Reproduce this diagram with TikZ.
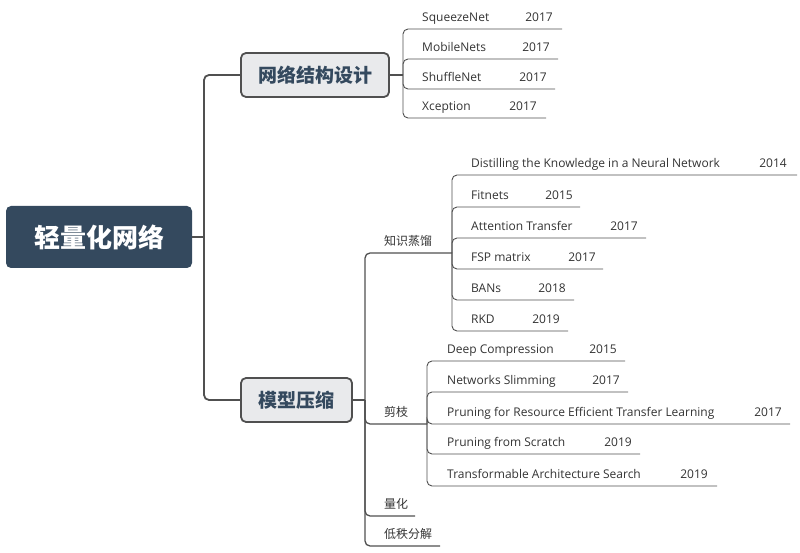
\documentclass[tikz,border=0pt]{standalone}
\usepackage{fontspec}
\setmainfont{Open Sans}
\newfontfamily\cjk{Noto Sans CJK SC}
\definecolor{rootblue}{HTML}{34495E}
\definecolor{boxgray}{HTML}{E9EAEC}
\definecolor{edgegray}{HTML}{505050}
\definecolor{inkgray}{HTML}{333333}
\tikzset{
  rootbox/.style={fill=rootblue, rounded corners=5, minimum width=186, minimum height=62,
    text=white, font=\cjk\bfseries\fontsize{26}{30}\selectfont},
  topicbox/.style={fill=boxgray, draw=edgegray, line width=1.8, rounded corners=5,
    minimum height=44, text=rootblue, font=\cjk\bfseries\fontsize{19}{22}\selectfont},
  subtopic/.style={anchor=base west, inner sep=0, text=inkgray, font=\cjk\fontsize{12}{14}\selectfont},
  leaf/.style={anchor=base west, inner sep=0, text=inkgray, font=\fontsize{12}{14}\selectfont},
  year/.style={leaf, anchor=base east},
  mainline/.style={draw=edgegray, line width=1.8, rounded corners=5},
  midline/.style={draw=edgegray, line width=1.3, rounded corners=5},
  leafline/.style={draw=edgegray, line width=0.9, rounded corners=5}
}
\begin{document}
\begin{tikzpicture}[x=1pt,y=-1pt]
\useasboundingbox (0,0) rectangle (800,553);
% main topics
\node[rootbox] (root) at (99,237) {轻量化网络};
\node[topicbox, minimum width=148] (design) at (315,75) {网络结构设计};
\node[topicbox, minimum width=111] (compress) at (296.5,400) {模型压缩};
\coordinate (rootk) at (204,237);
\draw[mainline] (root.east) -- (rootk);
\draw[mainline] (rootk) |- (design.west);
\draw[mainline] (rootk) |- (compress.west);
% network design
\coordinate (designk) at (403,75);
\draw[midline] (design.east) -- (designk);
\foreach \nm/\yr/\ly/\yx/\ex [count=\i] in {SqueezeNet/2017/29/553/562, MobileNets/2017/59/550/558,
    ShuffleNet/2017/89/547/555, Xception/2017/118/537/546}{
  \node[leaf] (net\i) at (422,\ly-7.5) {\nm};
  \node[year] (nety\i) at (\yx,\ly-7.5) {\yr};
  \coordinate (nete\i) at (\ex,\ly);
  \draw[leafline] (designk) |- (nete\i);
}
% model compression
\coordinate (compk) at (365,400);
\draw[midline] (compress.east) -- (compk);
\node[subtopic] (kd) at (384,245.5) {知识蒸馏};
\coordinate (kdk) at (452,253);
\draw[midline] (compk) |- (kdk);
\node[subtopic] (prune) at (384,416.5) {剪枝};
\coordinate (prunek) at (427,424);
\draw[midline] (compk) |- (prunek);
\node[subtopic] (quant) at (384,508.5) {量化};
\coordinate (quante) at (415,516);
\draw[midline] (compk) |- (quante);
\node[subtopic] (lowrank) at (384,538.5) {低秩分解};
\coordinate (lowranke) at (440,546);
\draw[midline] (compk) |- (lowranke);
% distillation papers
\foreach \nm/\yr/\ly/\yx/\ex [count=\i] in {Distilling the Knowledge in a Neural Network/2014/175/787/797,
    Fitnets/2015/207/573/580, Attention Transfer/2017/238/638/646, FSP matrix/2017/269/596/603,
    BANs/2018/300/566/574, RKD/2019/331/560/568}{
  \node[leaf] (kdp\i) at (471,\ly-7.5) {\nm};
  \node[year] (kdy\i) at (\yx,\ly-7.5) {\yr};
  \coordinate (kde\i) at (\ex,\ly);
  \draw[leafline] (kdk) |- (kde\i);
}
% pruning papers
\foreach \nm/\yr/\ly/\yx/\ex [count=\i] in {Deep Compression/2015/361/617/625,
    Networks Slimming/2017/392/620/628, Pruning for Resource Efficient Transfer Learning/2017/424/782/790,
    Pruning from Scratch/2019/454/632/640, Transformable Architecture Search/2019/486/708/717}{
  \node[leaf] (prp\i) at (447,\ly-7.5) {\nm};
  \node[year] (pry\i) at (\yx,\ly-7.5) {\yr};
  \coordinate (pre\i) at (\ex,\ly);
  \draw[leafline] (prunek) |- (pre\i);
}
\end{tikzpicture}
\end{document}
